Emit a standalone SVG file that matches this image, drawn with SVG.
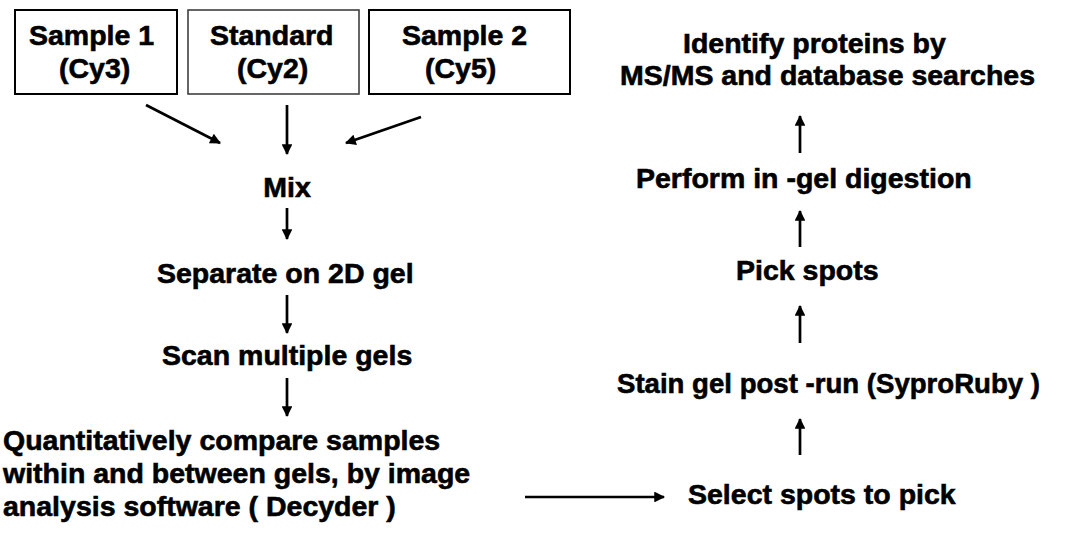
<svg xmlns="http://www.w3.org/2000/svg" width="1074" height="540" viewBox="0 0 1074 540">
  <defs>
    <marker id="ah" viewBox="0 0 10 10" refX="9" refY="5" markerWidth="4.8" markerHeight="4" orient="auto" markerUnits="strokeWidth">
      <path d="M0,0 L10,5 L0,10 Z" fill="#000"/>
    </marker>
    <style>
      .t { font-family: "Liberation Sans", Arial, sans-serif; font-weight: bold; font-size: 28.5px; fill: #000; stroke: #000; stroke-width: 0.6px; }
      .box { fill: #fff; stroke: #000; stroke-width: 2; }
      .c { stroke: #000; stroke-width: 2.7; fill: none; marker-end: url(#ah); }
    </style>
  </defs>
  <rect width="1074" height="540" fill="#fff"/>

  <g id="sample1">
    <rect class="box" x="15" y="10" width="162" height="84"/>
    <text class="t" x="29" y="45">Sample 1</text>
    <text class="t" x="59" y="78">(Cy3)</text>
  </g>
  <g id="standard">
    <rect class="box" x="188" y="10" width="171" height="84" style="stroke:#333;stroke-width:1.5"/>
    <text class="t" x="210" y="45">Standard</text>
    <text class="t" x="237" y="78">(Cy2)</text>
  </g>
  <g id="sample2">
    <rect class="box" x="369" y="10" width="201" height="84"/>
    <text class="t" x="402" y="45">Sample 2</text>
    <text class="t" x="425" y="78">(Cy5)</text>
  </g>
  <g id="mix"><text class="t" x="287" y="197" text-anchor="middle">Mix</text></g>
  <g id="separate"><text class="t" x="157" y="283">Separate on 2D gel</text></g>
  <g id="scan"><text class="t" x="162" y="365">Scan multiple gels</text></g>
  <g id="compare">
    <text class="t" x="3" y="450">Quantitatively compare samples</text>
    <text class="t" x="3" y="483">within and between gels, by image</text>
    <text class="t" x="3" y="516">analysis software ( Decyder )</text>
  </g>
  <g id="select"><text class="t" x="688" y="504">Select spots to pick</text></g>
  <g id="stain"><text class="t" x="617" y="393" textLength="423" lengthAdjust="spacingAndGlyphs">Stain gel post -run (SyproRuby )</text></g>
  <g id="pick"><text class="t" x="736" y="280">Pick spots</text></g>
  <g id="digest"><text class="t" x="636" y="188">Perform in -gel digestion</text></g>
  <g id="identify">
    <text class="t" x="683" y="53">Identify proteins by</text>
    <text class="t" x="620" y="85">MS/MS and database searches</text>
  </g>

  <g id="connectors">
    <line class="c" x1="146" y1="105" x2="220" y2="143"/>
    <line class="c" x1="287" y1="105" x2="287" y2="154"/>
    <line class="c" x1="421" y1="117" x2="346" y2="143"/>
    <line class="c" x1="287" y1="208" x2="287" y2="239"/>
    <line class="c" x1="287" y1="295" x2="287" y2="333"/>
    <line class="c" x1="287" y1="378" x2="287" y2="416"/>
    <line class="c" x1="525" y1="497" x2="664" y2="497"/>
    <line class="c" x1="800" y1="455" x2="800" y2="419"/>
    <line class="c" x1="800" y1="343" x2="800" y2="306"/>
    <line class="c" x1="800" y1="247" x2="800" y2="211"/>
    <line class="c" x1="800" y1="153" x2="800" y2="116"/>
  </g>
</svg>
